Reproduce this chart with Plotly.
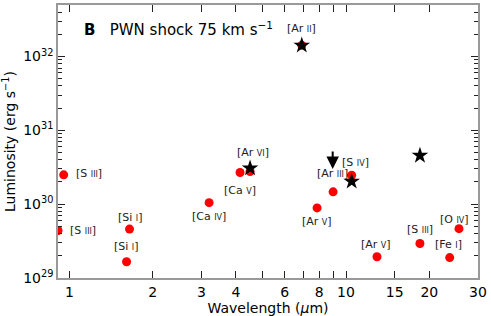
import math
import plotly.graph_objects as go

# ---- data ----
dot_elements = ["S", "S", "Si", "Si", "Ca", "Ca", "Ar", "Ar", "Ar", "Ar", "S", "Ar", "S", "Fe", "O"]
dot_ions = ["III", "III", "I", "I", "IV", "V", "VI", "II", "V", "III", "IV", "V", "III", "I", "IV"]
dot_wavelength = [0.91, 0.954, 1.61, 1.65, 3.2, 4.14, 4.5, 6.92, 7.86, 8.98, 10.48, 12.94, 18.5, 23.7, 25.6]
dot_luminosity = [4.4e29, 2.5e30, 1.66e29, 4.6e29, 1.05e30, 2.69e30, 2.77e30, 1.42e32,
                  8.9e29, 1.47e30, 2.47e30, 1.94e29, 2.93e29, 1.89e29, 4.66e29]

star_wavelength = [6.92, 4.5, 10.48, 18.5]
star_luminosity = [1.42e32, 3.08e30, 2.03e30, 4.56e30]

limit_wavelength = [8.95]
limit_luminosity = [3.0e30]

x_tickvals = [1, 2, 3, 4, 5, 6, 7, 8, 9, 10, 15, 20, 30]
x_ticktext = ["1", "2", "3", "4", "", "6", "", "8", "", "10", "15", "20", "30"]
y_exponents = [29, 30, 31, 32]

# ---- label placement (pixel offsets, style only) ----
label_place = [
    ("left", 10, 0), ("left", 10, 1), ("center", -1, 15), ("center", 0, 12),
    ("center", 0, -14), ("center", 0, -18), ("center", 3, 19), ("center", 0, 17),
    ("center", 0, -14), ("center", -1, 18), ("center", 4, 13), ("center", -1, 12),
    ("center", 0, 14), ("center", -1, 13), ("center", -4, 9),
]

FONT = "DejaVu Sans"

fig = go.Figure()
fig.add_trace(go.Scatter(
    x=dot_wavelength, y=dot_luminosity, mode="markers",
    marker=dict(color="#ff0000", size=9, line=dict(width=0)),
    cliponaxis=True, hoverinfo="skip"))
fig.add_trace(go.Scatter(
    x=star_wavelength, y=star_luminosity, mode="markers",
    marker=dict(color="black", size=12.5, symbol="star", line=dict(width=0)),
    hoverinfo="skip"))

# annotations on log axes are positioned in log10 units
for el, ion, x, y, (anc, dx, dy) in zip(dot_elements, dot_ions, dot_wavelength,
                                         dot_luminosity, label_place):
    fig.add_annotation(
        x=math.log10(x), y=math.log10(y), xref="x", yref="y", showarrow=False,
        text=f"[{el} <span style=\"font-size:8px\">{ion}</span>]",
        xanchor=anc, yanchor="middle", xshift=dx, yshift=dy,
        font=dict(family=FONT, size=11, color="#222"))

for x, y in zip(limit_wavelength, limit_luminosity):
    fig.add_annotation(
        x=math.log10(x), y=math.log10(y), xref="x", yref="y", text="", showarrow=True,
        ax=0, ay=-19, axref="pixel", ayref="pixel",
        arrowhead=2, arrowsize=1.25, arrowwidth=2, arrowcolor="black", standoff=0)

fig.add_annotation(
    x=0.057, y=0.912, xref="paper", yref="paper", showarrow=False,
    xanchor="left", yanchor="middle",
    text="<b>B</b>   PWN shock 75 km s<sup>−1</sup>",
    font=dict(family=FONT, size=15, color="black"))

y_minor = [float(m) * 10.0 ** e for e in [29, 30, 31, 32] for m in range(2, 10)]

fig.update_xaxes(
    type="log", range=[-0.041, 1.477],
    tickvals=x_tickvals, ticktext=x_ticktext,
    ticks="inside", ticklen=7, tickwidth=1, tickcolor="#222",
    showline=True, linecolor="#999", linewidth=1.5, mirror="ticks",
    showgrid=False, zeroline=False,
    tickfont=dict(family=FONT, size=14, color="black"),
    title=dict(text="Wavelength (<i>μ</i>m)", standoff=2,
               font=dict(family=FONT, size=14, color="black")),
)
fig.update_yaxes(
    type="log", range=[29, 32.699],
    tickvals=[10.0 ** e for e in y_exponents],
    ticktext=[f"10<sup>{e}</sup>" for e in y_exponents],
    ticks="inside", ticklen=7, tickwidth=1, tickcolor="#222",
    minor=dict(tickvals=y_minor, ticks="inside", ticklen=4, tickwidth=1, tickcolor="#222",
               showgrid=False),
    showline=True, linecolor="#999", linewidth=1.5, mirror="ticks",
    showgrid=False, zeroline=False,
    tickfont=dict(family=FONT, size=14, color="black"),
    title=dict(text="Luminosity (erg s<sup>−1</sup>)", standoff=6,
               font=dict(family=FONT, size=14, color="black")),
)

fig.update_layout(
    width=491, height=316,
    margin=dict(l=58, r=13, t=5, b=38, autoexpand=False),
    paper_bgcolor="white", plot_bgcolor="white",
    showlegend=False,
)

fig.write_html("out.html", config={"displayModeBar": False},
               post_script="document.body.style.margin='0';")
